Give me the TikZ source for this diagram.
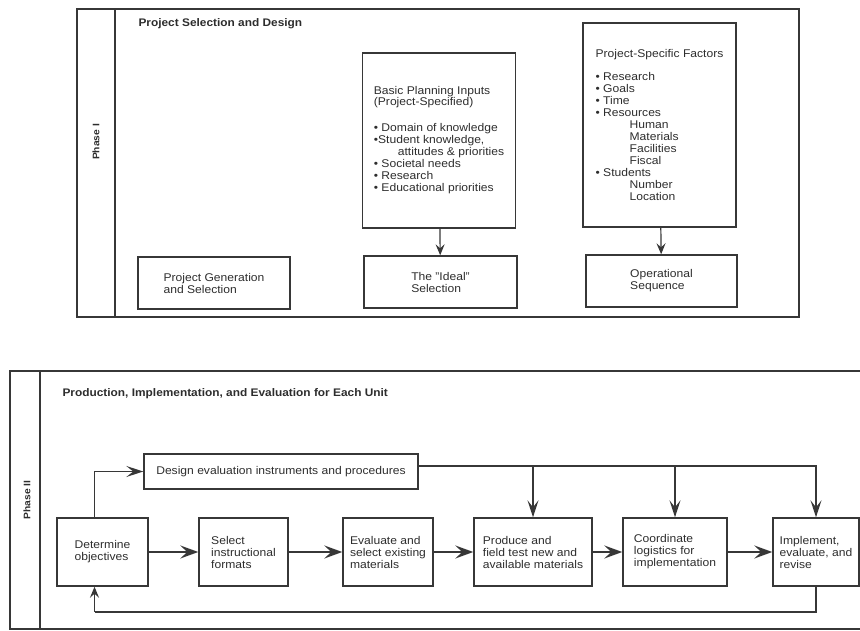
\documentclass[tikz,border=0pt]{standalone}
\usepackage{fontspec}
\setmainfont{Liberation Sans}[FakeStretch=1.08]
\usepackage{tikz}
\usetikzlibrary{arrows.meta}
\definecolor{scanink}{RGB}{55, 55, 55}
\definecolor{scantext}{RGB}{45, 45, 45}
\newcommand{\boxfont}{\fontsize{11.2}{12}\selectfont}
\newcommand{\headfont}{\bfseries\fontsize{11}{13}\selectfont}
\tikzset{
    phaseframe/.style={draw=scanink, line width=1.5pt},
    planbox/.style={draw=scanink, line width=1.4pt, inner sep=0pt, align=left, font=\boxfont, text=scantext},
    listbox/.style={planbox, minimum width=153pt},
    stepbox/.style={planbox, minimum height=68pt},
    phaselabel/.style={rotate=90, font=\bfseries\fontsize{9.5}{12}\selectfont, text=scantext},
    headlabel/.style={anchor=base west, font=\headfont, text=scantext},
    thinarrow/.style={draw=scanink, line width=1.2pt, -{Stealth[length=11pt, width=9pt, inset=4pt]}},
    flowarrow/.style={draw=scanink, line width=2.2pt, -{Stealth[length=18pt, width=13pt, inset=7pt]}},
    feedarrow/.style={draw=scanink, line width=1.4pt, -{Stealth[length=17pt, width=11pt, inset=7pt]}},
    feedline/.style={draw=scanink, line width=1.4pt}
}

\begin{document}
\begin{tikzpicture}[x=1pt, y=-1pt]
    \useasboundingbox (0,0) rectangle (860,631);
    \clip (0,0) rectangle (860,631);
    % Phase I
    \draw[phaseframe] (77,9) rectangle (799,317);
    \draw[phaseframe] (115,9) -- (115,317);
    \node[phaselabel] (ph1) at (96,142) {Phase I};
    \node[headlabel] (t1) at (135,27) {Project Selection and Design};

    \node[listbox, minimum height=175pt] (bpi) at (439,140.5) {Basic Planning Inputs\\[-1pt]
        (Project-Specified)\\[14pt]
        \textbullet\ Domain of knowledge\\
        \textbullet Student knowledge,\\
        \hspace*{24pt}attitudes \& priorities\\
        \textbullet\ Societal needs\\
        \textbullet\ Research\\
        \textbullet\ Educational priorities};
    \node[listbox, minimum height=204pt] (psf) at (659.5,125) {Project-Specific Factors\\[11pt]
        \textbullet\ Research\\
        \textbullet\ Goals\\
        \textbullet\ Time\\
        \textbullet\ Resources\\
        \hspace*{34pt}Human\\
        \hspace*{34pt}Materials\\
        \hspace*{34pt}Facilities\\
        \hspace*{34pt}Fiscal\\
        \textbullet\ Students\\
        \hspace*{34pt}Number\\
        \hspace*{34pt}Location};

    \node[planbox, minimum width=152pt, minimum height=52pt] (pgs) at (214,283) {Project Generation\\and Selection};
    \node[planbox, minimum width=153pt, minimum height=52pt] (ideal) at (440.5,282) {The "Ideal"\\Selection};
    \node[planbox, minimum width=151pt, minimum height=52pt] (opseq) at (661.5,281) {Operational\\Sequence};

    \draw[thinarrow] (bpi) -- (ideal);
    \draw[thinarrow] (psf) -- (opseq);

    % Phase II
    \draw[phaseframe] (10,371) rectangle (866,629);
    \draw[phaseframe] (40,371) -- (40,629);
    \node[phaselabel] (ph2) at (27,500) {Phase II};
    \node[headlabel] (t2) at (59,396) {Production, Implementation, and Evaluation for Each Unit};

    \node[planbox, minimum width=274pt, minimum height=35pt] (design) at (281,471.5) {Design evaluation instruments and procedures};

    \node[stepbox, minimum width=91pt] (det) at (102.5,552) {Determine\\objectives};
    \node[stepbox, minimum width=89pt] (sel) at (243.5,552) {Select\\instructional\\formats};
    \node[stepbox, minimum width=90pt] (evalm) at (388,552) {Evaluate and\\select existing\\materials};
    \node[stepbox, minimum width=118pt] (prod) at (533,552) {Produce and\\field test new and\\available materials};
    \node[stepbox, minimum width=104pt] (coord) at (675,552) {Coordinate\\logistics for\\implementation};
    \node[stepbox, minimum width=86pt] (impl) at (816,552) {Implement,\\evaluate, and\\revise};

    \draw[flowarrow] (det) -- (sel);
    \draw[flowarrow] (sel) -- (evalm);
    \draw[flowarrow] (evalm) -- (prod);
    \draw[flowarrow] (prod) -- (coord);
    \draw[flowarrow] (coord) -- (impl);

    \draw[feedarrow] ([xshift=-8pt]det.north) |- (design.west);

    \coordinate (bus) at ([yshift=5.5pt]design.east);
    \draw[feedarrow] (bus) -| (impl.north);
    \draw[feedarrow] (prod.north |- bus) -- (prod.north);
    \draw[feedarrow] (coord.north |- bus) -- (coord.north);

    \coordinate (loop) at (94.5,612);
    \draw[feedline] (impl.south) |- (loop);
    \draw[thinarrow] (loop) -- ([xshift=-8pt]det.south);
\end{tikzpicture}
\end{document}
